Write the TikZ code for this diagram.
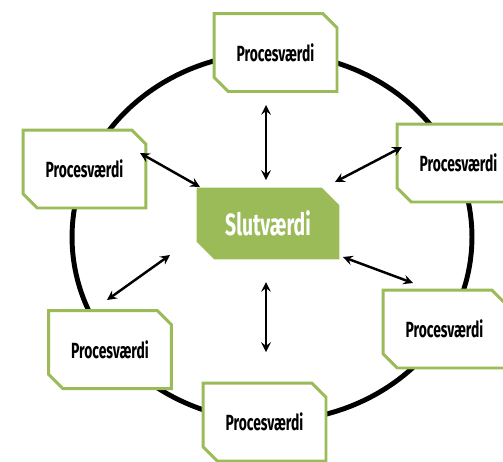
\documentclass[tikz,border=0pt]{standalone}
\usepackage{fontspec}
\newfontfamily\boxfont[FakeStretch=0.63]{Fira Sans}
\usepackage{tikz}
\usetikzlibrary{shapes.misc, arrows}
\definecolor{olive}{HTML}{9BBB59}
\tikzstyle{arrow} = [line width=1.4pt,<->,>=stealth]
\tikzstyle{ring} = [line width=2.8pt]
\tikzstyle{proc} = [chamfered rectangle, chamfered rectangle corners={north east,south west},
  chamfered rectangle xsep=0.3cm, draw=olive, line width=1.7pt, fill=white,
  minimum width=2.46cm, minimum height=1.56cm, inner sep=0pt,
  font=\boxfont\bfseries\fontsize{12.5}{14}\selectfont]
\tikzstyle{goal} = [chamfered rectangle, chamfered rectangle corners={north east,south west},
  chamfered rectangle xsep=0.24cm, draw=olive, fill=olive, line width=1.7pt, text=white,
  minimum width=2.8cm, minimum height=1.38cm, inner sep=0pt,
  font=\boxfont\bfseries\fontsize{17.5}{19}\selectfont]

\begin{document}
\begin{tikzpicture}[x=0.02cm,y=-0.02cm]
		\useasboundingbox (0,0) rectangle (503,461);
		\draw [ring] (272,237) ellipse [x radius=4cm, y radius=3.68cm];
		\node [goal] (slut) at (268,223.5) {Slutværdi};
		\node [proc] (p1) at (275.5,52.5) {Procesværdi};
		\node [proc] (p2) at (458.5,163) {Procesværdi};
		\node [proc] (p3) at (444.5,329) {Procesværdi};
		\node [proc] (p4) at (264.5,422) {Procesværdi};
		\node [proc] (p5) at (110,349.5) {Procesværdi};
		\node [proc] (p6) at (84.5,169) {Procesværdi};
		\coordinate (a1) at (266,105);
		\coordinate (b1) at (266,180);
		\coordinate (a2) at (402,147);
		\coordinate (b2) at (335,182);
		\coordinate (a3) at (413,283);
		\coordinate (b3) at (343,257);
		\coordinate (a4) at (266,352);
		\coordinate (b4) at (266,282);
		\coordinate (a5) at (107,300);
		\coordinate (b5) at (170,255);
		\coordinate (a6) at (140,153);
		\coordinate (b6) at (200,187);
		\foreach \i in {1,...,6}
			\draw [arrow] (a\i)--(b\i);
	\end{tikzpicture}
\end{document}
